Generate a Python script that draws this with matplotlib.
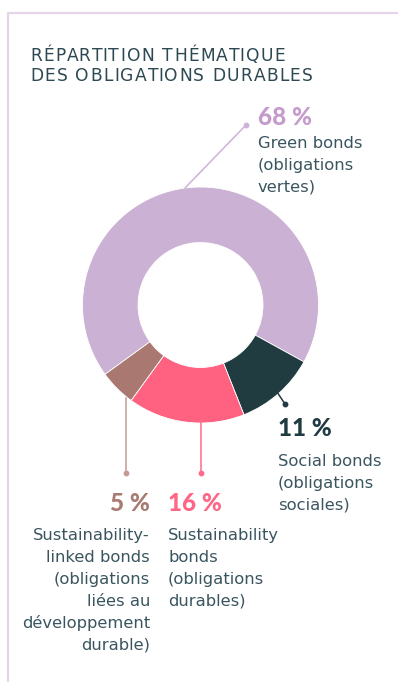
import matplotlib
matplotlib.use("Agg")
import matplotlib.pyplot as plt
from matplotlib.font_manager import FontProperties

# Thematic split of sustainable bonds (%)
categories = ["Green bonds", "Social bonds", "Sustainability bonds", "Sustainability-linked bonds"]
shares = [68, 11, 16, 5]
pct_labels = ["68 %", "11 %", "16 %", "5 %"]
descriptions = [
    ["Green bonds", "(obligations", "vertes)"],
    ["Social bonds", "(obligations", "sociales)"],
    ["Sustainability", "bonds", "(obligations", "durables)"],
    ["Sustainability-", "linked bonds", "(obligations", "liées au", "développement", "durable)"],
]
title_lines = ["RÉPARTITION THÉMATIQUE", "DES OBLIGATIONS DURABLES"]

wedge_colors = ["#cbb1d4", "#203c41", "#ff6281", "#a97971"]
pct_colors = ["#c49bcc", "#1f3a40", "#ff6584", "#a87a72"]
text_color = "#3a5560"
title_color = "#2d4852"
frame_color = "#e4d6e8"

W, H = 398, 682
fig = plt.figure(figsize=(W / 100, H / 100), dpi=100)
ax = fig.add_axes([0, 0, 1, 1])
renderer = fig.canvas.get_renderer()

def Y(py):
    return H - py

cx, cy, r_out, r_in = 200.5, Y(305), 118, 62.5
ax.pie(shares, colors=wedge_colors, startangle=216, counterclock=False,
       center=(cx, cy), radius=r_out,
       wedgeprops=dict(width=r_out - r_in, edgecolor="white", linewidth=0.6))
ax.set_xlim(0, W)
ax.set_ylim(0, H)
ax.set_aspect("equal")
ax.axis("off")

# frame
ax.plot([7.5, 7.5, W + 5], [-5, Y(12.5), Y(12.5)], color=frame_color, lw=1.6,
        solid_capstyle="butt", zorder=0)


def text_width(s, fp):
    w, _, _ = renderer.get_text_width_height_descent(s, fp, ismath=False)
    return w


def tracked_text(x, y, s, fp, tracking, **kw):
    """Draw a line character by character with extra letter spacing."""
    space_w = text_width("a a", fp) - text_width("aa", fp)
    for k, ch in enumerate(s):
        prefix = s[:k]
        stripped = prefix.rstrip(" ")
        offset = text_width(stripped, fp) if stripped else 0.0
        offset += space_w * (len(prefix) - len(stripped))
        if ch != " ":
            ax.text(x + offset + tracking * k, y, ch, fontproperties=fp,
                    va="baseline", ha="left", **kw)


# title
title_fp = FontProperties(family="DejaVu Sans", size=12.3)
for i, line in enumerate(title_lines):
    tracked_text(30, Y(61 + 20 * i), line, title_fp, 1.3, color=title_color)

# leader lines with end dots
leaders = [
    ((185, 188), (246, 125), "#cdb3d6"),
    ((275, 389), (285, 404), "#203c41"),
    ((200.5, 420), (200.5, 473), "#ff6a88"),
    ((126, 398), (126, 473), "#c59a94"),
]
for (x0, y0), (x1, y1), c in leaders:
    ax.plot([x0, x1], [Y(y0), Y(y1)], color=c, lw=1.1, zorder=3)
    ax.plot([x1], [Y(y1)], "o", color=c, ms=3.2, zorder=3)

pct_size = 17.5
body_size = 11.8
line_h = 22

# label anchors: (x, pct baseline, first body baseline, alignment)
anchors = [
    (258, 125, 148, "left"),
    (278, 436, 466, "left"),
    (168, 511, 540, "left"),
    (150, 511, 540, "right"),
]
for (x, pb, bb, ha), pct, desc, pc in zip(anchors, pct_labels, descriptions, pct_colors):
    ax.text(x, Y(pb), pct, fontsize=pct_size, fontweight="black", family="Lato",
            color=pc, va="baseline", ha=ha)
    for j, line in enumerate(desc):
        ax.text(x, Y(bb + line_h * j), line, fontsize=body_size, family="DejaVu Sans",
                color=text_color, va="baseline", ha=ha)

fig.savefig("out.png", dpi=100, facecolor="white")
